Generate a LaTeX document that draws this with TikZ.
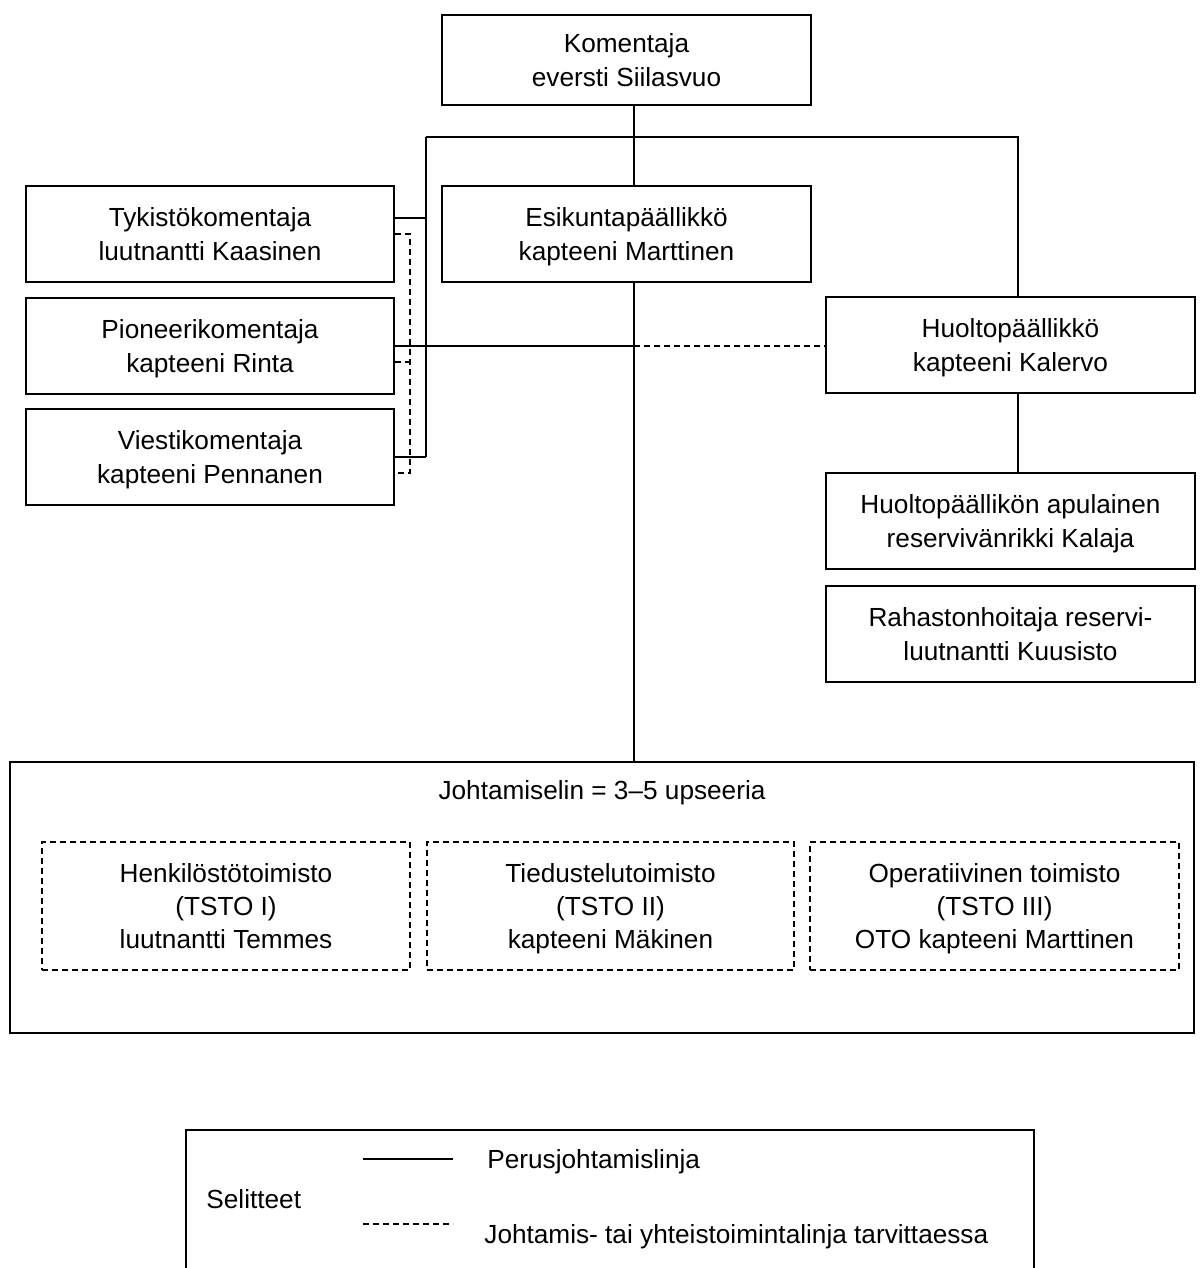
\documentclass[tikz,border=0pt]{standalone}
\usepackage{fontspec}
\setmainfont{Liberation Sans}
\usepackage{tikz}

\tikzset{
  unit/.style={draw=black, line width=0.8pt, rectangle, inner sep=0pt, align=center,
    font=\fontsize{13.1}{16.6}\selectfont, minimum width=184.5pt, minimum height=48pt,
    text depth=0pt},
  office/.style={unit, dashed, dash pattern=on 3pt off 2pt, line width=0.6pt, minimum height=64pt},
  link/.style={line width=0.6pt},
  maybe/.style={line width=0.6pt, dash pattern=on 3pt off 2pt},
  legendtext/.style={anchor=west, inner sep=0pt, font=\fontsize{13.1}{16.6}\selectfont}
}

\begin{document}
\begin{tikzpicture}[x=0.5pt, y=-0.5pt]
      \useasboundingbox (0,0) rectangle (1200,1268);
      % \draw[very thin, gray, step=50] (0,0) grid (1200,1268);
      \node[unit, minimum height=45pt] (kom) at (626.5,60) {Komentaja\\eversti Siilasvuo};
      \node[unit] (esi) at (626.5,234) {Esikuntapäällikkö\\kapteeni Marttinen};

      \node[unit, minimum width=184pt] (tyk) at (210,234) {Tykistökomentaja\\luutnantti Kaasinen};
      \node[unit, minimum width=184pt] (pio) at (210,346) {Pioneerikomentaja\\kapteeni Rinta};
      \node[unit, minimum width=184pt] (vie) at (210,457) {Viestikomentaja\\kapteeni Pennanen};

      \node[unit] (huo) at (1010.5,345) {Huoltopäällikkö\\kapteeni Kalervo};
      \node[unit] (apu) at (1010.5,521) {Huoltopäällikön apulainen\\reservivänrikki Kalaja};
      \node[unit] (rah) at (1010.5,634) {Rahastonhoitaja reservi-\\luutnantti Kuusisto};

      \node[unit, minimum width=592pt, minimum height=135.5pt] (johto) at (602,897.5) {};
      \node[inner sep=0pt, font=\fontsize{13.1}{16.6}\selectfont] (elin) at (602,793) {Johtamiselin = 3–5 upseeria};
      \node[office, minimum width=184pt] (hen) at (226,906) {Henkilöstötoimisto\\(TSTO I)\\luutnantti Temmes};
      \node[office, minimum width=183.5pt] (tie) at (610.5,906) {Tiedustelutoimisto\\(TSTO II)\\kapteeni Mäkinen};
      \node[office] (ope) at (994.5,906) {Operatiivinen toimisto\\(TSTO III)\\OTO kapteeni Marttinen};

      \coordinate (bus) at (426,137);
      \coordinate (spine) at (634,137);
      \coordinate (hbus) at (1018,137);
      \coordinate (dbus) at (410,137);

      % perusjohtamislinjat
      \draw[link] (kom.south -| spine) -- (esi.north -| spine);
      \draw[link] (bus) -- (hbus) -- (huo.north -| hbus);
      \draw[link] (bus) -- (bus |- vie.east);
      \draw[link] ([yshift=8pt]tyk.east) -- ([yshift=8pt]tyk.east -| bus);
      \draw[link] (pio.east) -- (pio.east -| spine);
      \draw[link] (vie.east) -- (vie.east -| bus);
      \draw[link] (esi.south -| spine) -- (johto.north -| spine);
      \draw[link] (huo.south -| hbus) -- (apu.north -| hbus);

      % tarvittaessa
      \draw[maybe] (pio.east -| spine) -- (pio.east -| huo.west);
      \draw[maybe] (tyk.east) -| ([yshift=-8pt]vie.east -| dbus) -- ([yshift=-8pt]vie.east);
      \draw[maybe] ([yshift=-8pt]pio.east) -- ([yshift=-8pt]pio.east -| dbus);

      % selitteet
      \draw[line width=0.8pt] (186,1268) |- (1034,1130) -- (1034,1268);
      \coordinate (l1) at (363,1159);
      \coordinate (l2) at (453,1159);
      \coordinate (l3) at (363,1224);
      \coordinate (l4) at (453,1224);
      \draw[link] (l1) -- (l2);
      \draw[maybe] (l3) -- (l4);
      \node[legendtext] (perus) at (487,1162) {Perusjohtamislinja};
      \node[legendtext] (selit) at (206,1199) {Selitteet};
      \node[legendtext] (tarv) at (484,1237) {Johtamis- tai yhteistoimintalinja tarvittaessa};
\end{tikzpicture}
\end{document}
